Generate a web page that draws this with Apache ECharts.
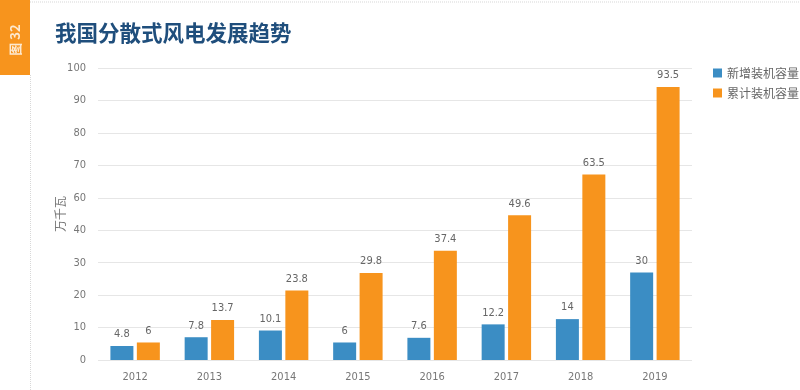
<!DOCTYPE html>
<html><head><meta charset="utf-8">
<script src="https://cdn.jsdelivr.net/npm/echarts@6/dist/echarts.min.js"></script>
<style>html,body{margin:0;padding:0;background:#fff}#c{width:800px;height:390px}</style>
</head><body><div id="c"></div>
<script>
const categories = ['2012','2013','2014','2015','2016','2017','2018','2019'];
const newCapacity = [4.8, 7.8, 10.1, 6, 7.6, 12.2, 14, 30];
const totalCapacity = [6, 13.7, 23.8, 29.8, 37.4, 49.6, 63.5, 93.5];
const yTickLabels = ['0','10','20','30','40','60','70','80','90','100'];
const seriesNames = ['新增装机容量','累计装机容量'];

const chart = echarts.init(document.getElementById('c'));
const FONT = '"DejaVu Sans Condensed","Noto Sans CJK SC",sans-serif';
const step = 100 / (yTickLabels.length - 1);
chart.setOption({
  animation: false,
  textStyle: {fontFamily: FONT},
  graphic: [
    {type:'rect', shape:{x:0,y:0,width:30,height:75}, style:{fill:'#f7941d'}},
    {type:'text', x:15, y:40, rotation:Math.PI/2,
      style:{text:'图 32', fill:'#fde9cf', font:'bold 13px "Noto Sans CJK SC",sans-serif', align:'center', verticalAlign:'middle'}},
    {type:'line', shape:{x1:30,y1:2,x2:800,y2:2}, style:{stroke:'#d8d8d8', lineWidth:1, lineDash:[1,1]}},
    {type:'line', shape:{x1:30.5,y1:75,x2:30.5,y2:390}, style:{stroke:'#d8d8d8', lineWidth:1, lineDash:[1,1]}},
    {type:'text', x:55, y:33,
      style:{text:'我国分散式风电发展趋势', fill:'#1f4e7c', font:'bold 21.5px "Noto Sans CJK SC",sans-serif', verticalAlign:'middle'}}
  ],
  legend: {
    orient:'vertical', left:708, top:62, itemWidth:9, itemHeight:9, itemGap:8,
    icon:'rect',
    textStyle:{color:'#666', fontSize:12, fontFamily:'"Noto Sans CJK SC",sans-serif'},
    data: seriesNames
  },
  grid: {left:98, right:108, top:68, bottom:30, containLabel:false},
  xAxis: {
    type:'category', data:categories,
    axisLine:{show:false}, axisTick:{show:false},
    axisLabel:{color:'#777', fontSize:11, margin:12}
  },
  yAxis: {
    type:'value', min:0, max:100, interval:step,
    name:'万千瓦', nameLocation:'middle', nameRotate:90, nameGap:32, nameMoveOverlap:false,
    nameTextStyle:{color:'#777', fontSize:12, fontFamily:'"Noto Sans CJK SC",sans-serif'},
    axisLine:{show:false}, axisTick:{show:false},
    axisLabel:{color:'#777', fontSize:11, margin:12,
      formatter: v => yTickLabels[Math.round(v / step)]},
    splitLine:{lineStyle:{color:'#e6e6e6'}}
  },
  series: [
    {name:seriesNames[0], type:'bar', data:newCapacity, barWidth:23, barGap:'15%',
      itemStyle:{color:'#3b8dc4'},
      label:{show:true, position:'top', color:'#666', fontSize:11, distance:6}},
    {name:seriesNames[1], type:'bar', data:totalCapacity, barWidth:23,
      itemStyle:{color:'#f7941d'},
      label:{show:true, position:'top', color:'#666', fontSize:11, distance:6}}
  ]
});
</script></body></html>
